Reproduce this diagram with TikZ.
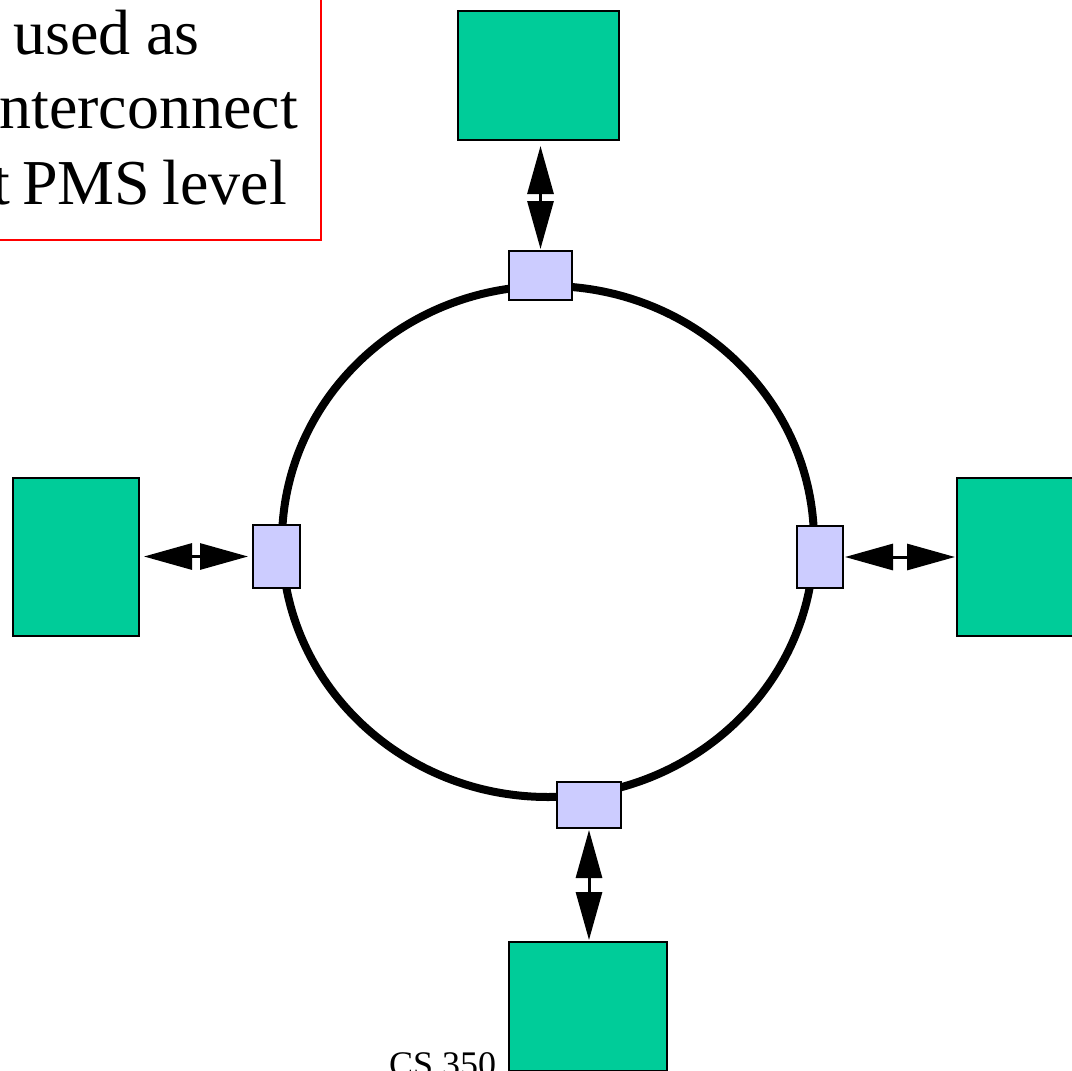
\documentclass[tikz,border=0pt]{standalone}
\usepackage{fontspec}
\setmainfont{Liberation Serif}
\usetikzlibrary{arrows.meta}
\definecolor{procgreen}{HTML}{00CC99}
\definecolor{portblue}{HTML}{CCCCFF}
\newcommand\narrowspaces{\spaceskip=12pt plus 0pt minus 0pt\relax}
\tikzset{
  procbox/.style={draw=black, line width=2pt, fill=procgreen, inner sep=0pt},
  portbox/.style={draw=black, line width=2pt, fill=portblue, inner sep=0pt},
  dbl/.style={line width=3pt, {Triangle[length=48pt,width=26pt]}-{Triangle[length=48pt,width=26pt]}},
  bigtext/.style={inner sep=0pt, font=\fontsize{64}{75}\selectfont},
}
\begin{document}
\begin{tikzpicture}[x=1pt, y=-1pt]
\useasboundingbox (0,0) rectangle (1072,1071);

% caption box
\draw[red, line width=2pt] (-300,-100) rectangle (321,240);
\node[bigtext, anchor=base east] (l1) at (200,54) {used as};
\node[bigtext, anchor=base east] (l2) at (298,128) {nterconnect};
\node[bigtext, anchor=base east] (l3) at (287,204) {\narrowspaces t PMS level};

% footer
\node[inner sep=0pt, anchor=base west, font=\fontsize{36}{40}\selectfont] (foot) at (389,1076) {CS 350};

% ring
\draw[line width=8pt] (548,541.5) ellipse [x radius=266, y radius=255.5];

% ring interface ports
\node[portbox, minimum width=63pt, minimum height=49pt] (pt) at (540.5,275.5) {};
\node[portbox, minimum width=64pt, minimum height=46pt] (pb) at (589,805) {};
\node[portbox, minimum width=47pt, minimum height=63pt] (pl) at (276.5,556.5) {};
\node[portbox, minimum width=46pt, minimum height=62pt] (pr) at (820,557) {};

% processing elements
\node[procbox, minimum width=161pt, minimum height=129pt] (gt) at (538.5,75.5) {};
\node[procbox, minimum width=158pt, minimum height=129pt] (gb) at (588,1006.5) {};
\node[procbox, minimum width=126pt, minimum height=158pt] (gl) at (76,557) {};
\node[procbox, minimum width=126pt, minimum height=158pt] (gr) at (1020,557) {};

% links
\draw[dbl, shorten <=5pt, shorten >=1pt] (gt.south -| pt.north) -- (pt.north);
\draw[dbl, shorten <=1pt, shorten >=1pt] (pb.south) -- (pb.south |- gb.north);
\draw[dbl, shorten <=4pt, shorten >=4pt] (gl.east |- pl.west) -- (pl.west);
\draw[dbl, shorten <=1pt, shorten >=1pt] (pr.east) -- (pr.east -| gr.west);
\end{tikzpicture}
\end{document}
